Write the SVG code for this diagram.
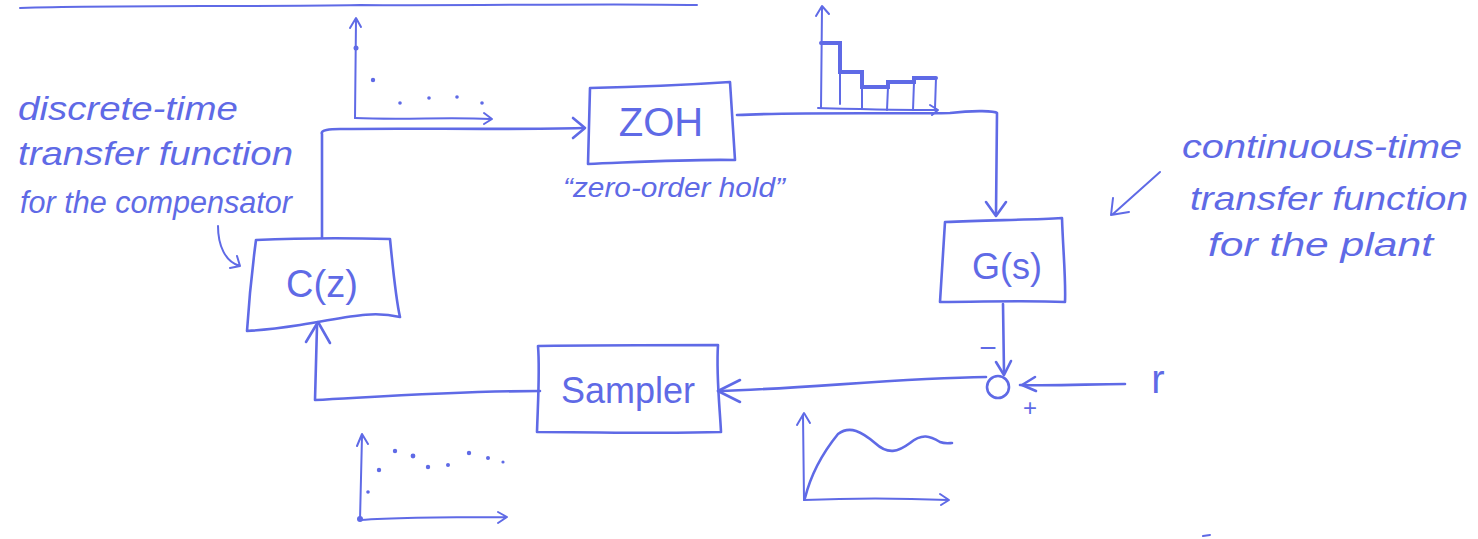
<svg xmlns="http://www.w3.org/2000/svg" width="1478" height="539" viewBox="0 0 1478 539">
<style>
.s{fill:none;stroke:#5f6ae6;stroke-width:2.6;stroke-linecap:round;stroke-linejoin:round}
.t{fill:none;stroke:#5f6ae6;stroke-width:2;stroke-linecap:round;stroke-linejoin:round}
.thick{fill:none;stroke:#5f6ae6;stroke-width:4;stroke-linecap:round}
.lbl{font-family:"Liberation Sans","DejaVu Sans",sans-serif;fill:#5f6ae6}
.note{font-family:"Liberation Sans","DejaVu Sans",sans-serif;font-style:italic;fill:#5f6ae6}
.dot{fill:#5f6ae6}
</style>
<rect width="1478" height="539" fill="#ffffff"/>
<path class="t" d="M20,8 C120,5 240,7 360,5 C480,6 600,3 697,5"/>

<g id="plot-discrete-top">
<path class="t" d="M355,118 L356,20 M350,28 L356,18 L361,27"/>
<path class="t" d="M355,118 C400,120 450,117 490,119 M484,113 L492,119 L484,124"/>
<circle class="dot" cx="356" cy="48" r="2.5"/>
<circle class="dot" cx="373" cy="80" r="2.2"/>
<circle class="dot" cx="400" cy="103" r="1.8"/>
<circle class="dot" cx="429" cy="98" r="1.8"/>
<circle class="dot" cx="457" cy="97" r="1.8"/>
<circle class="dot" cx="482" cy="103" r="1.8"/>
</g>

<g id="plot-staircase">
<path class="t" d="M821,108 L822,8 M816,16 L822,6 L829,14"/>
<path class="t" d="M818,108 C860,109 900,110 937,110 M930,105 L938,110 L932,115"/>
<path class="thick" d="M821,43 L840,43 L840,72 L862,72 L862,87 L888,87 L888,82 L914,82 L914,78 L936,78"/>
<path class="t" d="M840,72 L840,104 M862,87 L862,108 M888,87 L887,110 M914,82 L913,110 M936,78 L935,108"/>
</g>

<g id="connectors">
<path class="s" d="M322,238 L322,134 C320,130 330,129 340,129 C420,128 500,130 583,128"/>
<path class="s" d="M573,118 L585,128 L573,138"/>
<path class="s" d="M737,115 C800,112 900,114 950,113 C975,110 995,111 997,113 L996,214"/>
<path class="s" d="M986,202 L996,216 L1006,202"/>
<path class="s" d="M1003,304 L1004,372"/>
<path class="s" d="M996,362 L1004,375 L1011,361"/>
<path class="s" d="M1125,384 C1090,384 1060,386 1020,385"/>
<path class="s" d="M1035,377 L1022,385 L1036,391"/>
<path class="s" d="M986,377 C900,378 800,389 718,391"/>
<path class="s" d="M740,380 L718,391 L740,402"/>
<path class="s" d="M540,391 C460,391 390,396 315,400 L317,326"/>
<path class="s" d="M306,342 L318,322 L330,343"/>
<path class="t" d="M218,226 C218,245 225,262 240,266 M230,268 L240,266 L237,256"/>
<path class="t" d="M1160,172 L1113,214 M1113,198 L1111,215 L1129,212"/>
</g>

<g id="node-zoh">
<path class="s" d="M590,88 C640,87 700,84 730,82 L735,160 C690,159 640,162 588,164 Z"/>
<text class="lbl" x="661" y="136" font-size="40" text-anchor="middle">ZOH</text>
<text class="note" x="674" y="197" text-anchor="middle" style="font-size:28px" textLength="222" lengthAdjust="spacingAndGlyphs">“zero-order hold”</text>
</g>

<g id="node-gs">
<path class="s" d="M945,222 C990,220 1030,220 1062,218 C1063,250 1066,280 1065,302 C1020,300 985,302 940,302 Z"/>
<text class="lbl" x="1007" y="279" font-size="36" text-anchor="middle">G(s)</text>
</g>

<g id="node-sum">
<circle class="s" cx="998" cy="387" r="11"/>
<text class="lbl" x="988" y="358" font-size="30" text-anchor="middle">−</text>
<text class="lbl" x="1030" y="416" font-size="24" text-anchor="middle">+</text>
<text class="lbl" x="1158" y="393" font-size="40" text-anchor="middle">r</text>
</g>

<g id="node-sampler">
<path class="s" d="M538,346 C600,345 670,345 718,345 C716,375 720,410 721,432 C660,434 600,432 537,432 C538,400 540,370 538,346 Z"/>
<text class="lbl" x="628" y="403" font-size="36" text-anchor="middle">Sampler</text>
</g>

<g id="node-cz">
<path class="s" d="M256,240 C300,238 350,238 390,239 C393,270 396,300 400,317 C370,310 345,318 300,325 C280,328 265,330 247,331 C249,300 252,270 256,240 Z"/>
<text class="lbl" x="322" y="297" font-size="38" text-anchor="middle">C(z)</text>
</g>

<g id="note-compensator">
<text class="note" x="18" y="120" style="font-size:34px" textLength="220" lengthAdjust="spacingAndGlyphs">discrete-time</text>
<text class="note" x="18" y="165" style="font-size:34px" textLength="275" lengthAdjust="spacingAndGlyphs">transfer function</text>
<text class="note" x="20" y="213" style="font-size:31px" textLength="272" lengthAdjust="spacingAndGlyphs">for the compensator</text>
</g>

<g id="note-plant">
<text class="note" x="1182" y="158" style="font-size:34px" textLength="280" lengthAdjust="spacingAndGlyphs">continuous-time</text>
<text class="note" x="1190" y="210" style="font-size:34px" textLength="278" lengthAdjust="spacingAndGlyphs">transfer function</text>
<text class="note" x="1208" y="256" style="font-size:34px" textLength="225" lengthAdjust="spacingAndGlyphs">for the plant</text>
</g>

<g id="plot-sampled-bottom">
<path class="t" d="M360,520 L362,436 M357,446 L362,434 L368,444"/>
<path class="t" d="M360,520 C400,517 460,517 505,517 M498,512 L507,517 L498,523"/>
<circle class="dot" cx="360" cy="519" r="3"/>
<circle class="dot" cx="368" cy="492" r="1.8"/>
<circle class="dot" cx="379" cy="470" r="2.2"/>
<circle class="dot" cx="395" cy="451" r="2.2"/>
<circle class="dot" cx="413" cy="456" r="2.4"/>
<circle class="dot" cx="428" cy="467" r="2.2"/>
<circle class="dot" cx="448" cy="465" r="2"/>
<circle class="dot" cx="469" cy="453" r="2.2"/>
<circle class="dot" cx="488" cy="458" r="2"/>
<circle class="dot" cx="503" cy="462" r="1.6"/>
</g>

<g id="plot-continuous-bottom">
<path class="t" d="M804,500 L803,415 M797,425 L804,413 L810,423"/>
<path class="t" d="M804,500 C850,498 900,498 948,500 M940,494 L949,500 L941,505"/>
<path class="s" d="M805,498 C812,470 825,450 838,434 C850,425 862,432 875,443 C888,455 898,452 910,443 C922,433 930,436 940,442 C945,444 950,443 952,443"/>
</g>
<path class="t" d="M1203,536 L1210,535"/>
</svg>
